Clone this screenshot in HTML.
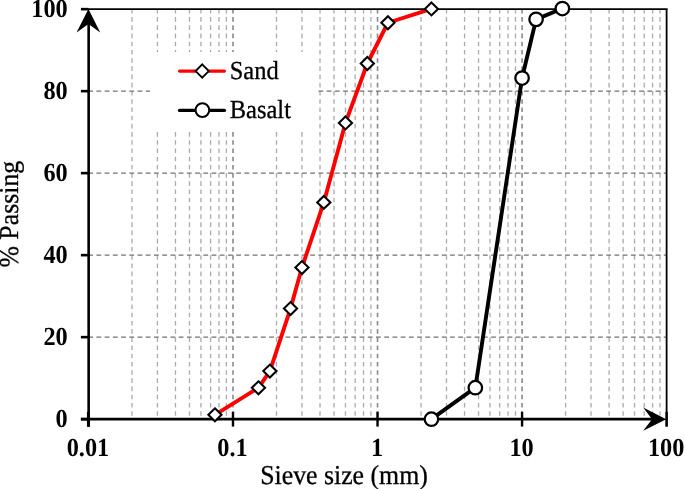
<!DOCTYPE html><html><head><meta charset="utf-8"><style>html,body{margin:0;padding:0;background:#fff;overflow:hidden;}svg{display:block;}text{font-family:"Liberation Serif",serif;text-rendering:geometricPrecision;}.t{filter:grayscale(1);}</style></head><body><svg width="685" height="489" viewBox="0 0 685 489"><rect x="0" y="0" width="685" height="489" fill="#fff"/><line x1="131.96" y1="8.9" x2="131.96" y2="419.15" stroke="#ababab" stroke-width="1.3" stroke-dasharray="4.6 3.61"/><line x1="157.41" y1="8.9" x2="157.41" y2="419.15" stroke="#ababab" stroke-width="1.3" stroke-dasharray="4.6 3.61"/><line x1="175.47" y1="8.9" x2="175.47" y2="419.15" stroke="#ababab" stroke-width="1.3" stroke-dasharray="4.6 3.61"/><line x1="189.48" y1="8.9" x2="189.48" y2="419.15" stroke="#ababab" stroke-width="1.3" stroke-dasharray="4.6 3.61"/><line x1="200.92" y1="8.9" x2="200.92" y2="419.15" stroke="#ababab" stroke-width="1.3" stroke-dasharray="4.6 3.61"/><line x1="210.60" y1="8.9" x2="210.60" y2="419.15" stroke="#ababab" stroke-width="1.3" stroke-dasharray="4.6 3.61"/><line x1="218.98" y1="8.9" x2="218.98" y2="419.15" stroke="#ababab" stroke-width="1.3" stroke-dasharray="4.6 3.61"/><line x1="226.38" y1="8.9" x2="226.38" y2="419.15" stroke="#ababab" stroke-width="1.3" stroke-dasharray="4.6 3.61"/><line x1="276.50" y1="8.9" x2="276.50" y2="419.15" stroke="#ababab" stroke-width="1.3" stroke-dasharray="4.6 3.61"/><line x1="301.95" y1="8.9" x2="301.95" y2="419.15" stroke="#ababab" stroke-width="1.3" stroke-dasharray="4.6 3.61"/><line x1="320.01" y1="8.9" x2="320.01" y2="419.15" stroke="#ababab" stroke-width="1.3" stroke-dasharray="4.6 3.61"/><line x1="334.02" y1="8.9" x2="334.02" y2="419.15" stroke="#ababab" stroke-width="1.3" stroke-dasharray="4.6 3.61"/><line x1="345.46" y1="8.9" x2="345.46" y2="419.15" stroke="#ababab" stroke-width="1.3" stroke-dasharray="4.6 3.61"/><line x1="355.14" y1="8.9" x2="355.14" y2="419.15" stroke="#ababab" stroke-width="1.3" stroke-dasharray="4.6 3.61"/><line x1="363.52" y1="8.9" x2="363.52" y2="419.15" stroke="#ababab" stroke-width="1.3" stroke-dasharray="4.6 3.61"/><line x1="370.92" y1="8.9" x2="370.92" y2="419.15" stroke="#ababab" stroke-width="1.3" stroke-dasharray="4.6 3.61"/><line x1="232.99" y1="8.9" x2="232.99" y2="419.15" stroke="#8a8a8a" stroke-width="1.6" stroke-dasharray="4.6 3.61"/><line x1="421.04" y1="8.9" x2="421.04" y2="419.15" stroke="#ababab" stroke-width="1.3" stroke-dasharray="4.6 3.61"/><line x1="446.49" y1="8.9" x2="446.49" y2="419.15" stroke="#ababab" stroke-width="1.3" stroke-dasharray="4.6 3.61"/><line x1="464.55" y1="8.9" x2="464.55" y2="419.15" stroke="#ababab" stroke-width="1.3" stroke-dasharray="4.6 3.61"/><line x1="478.56" y1="8.9" x2="478.56" y2="419.15" stroke="#ababab" stroke-width="1.3" stroke-dasharray="4.6 3.61"/><line x1="490.00" y1="8.9" x2="490.00" y2="419.15" stroke="#ababab" stroke-width="1.3" stroke-dasharray="4.6 3.61"/><line x1="499.68" y1="8.9" x2="499.68" y2="419.15" stroke="#ababab" stroke-width="1.3" stroke-dasharray="4.6 3.61"/><line x1="508.06" y1="8.9" x2="508.06" y2="419.15" stroke="#ababab" stroke-width="1.3" stroke-dasharray="4.6 3.61"/><line x1="515.46" y1="8.9" x2="515.46" y2="419.15" stroke="#ababab" stroke-width="1.3" stroke-dasharray="4.6 3.61"/><line x1="377.53" y1="8.9" x2="377.53" y2="419.15" stroke="#8a8a8a" stroke-width="1.6" stroke-dasharray="4.6 3.61"/><line x1="565.58" y1="8.9" x2="565.58" y2="419.15" stroke="#ababab" stroke-width="1.3" stroke-dasharray="4.6 3.61"/><line x1="591.03" y1="8.9" x2="591.03" y2="419.15" stroke="#ababab" stroke-width="1.3" stroke-dasharray="4.6 3.61"/><line x1="609.09" y1="8.9" x2="609.09" y2="419.15" stroke="#ababab" stroke-width="1.3" stroke-dasharray="4.6 3.61"/><line x1="623.10" y1="8.9" x2="623.10" y2="419.15" stroke="#ababab" stroke-width="1.3" stroke-dasharray="4.6 3.61"/><line x1="634.54" y1="8.9" x2="634.54" y2="419.15" stroke="#ababab" stroke-width="1.3" stroke-dasharray="4.6 3.61"/><line x1="644.22" y1="8.9" x2="644.22" y2="419.15" stroke="#ababab" stroke-width="1.3" stroke-dasharray="4.6 3.61"/><line x1="652.60" y1="8.9" x2="652.60" y2="419.15" stroke="#ababab" stroke-width="1.3" stroke-dasharray="4.6 3.61"/><line x1="660.00" y1="8.9" x2="660.00" y2="419.15" stroke="#ababab" stroke-width="1.3" stroke-dasharray="4.6 3.61"/><line x1="522.07" y1="8.9" x2="522.07" y2="419.15" stroke="#8a8a8a" stroke-width="1.6" stroke-dasharray="4.6 3.61"/><line x1="88.2" y1="337.15" x2="666.61" y2="337.15" stroke="#727272" stroke-width="1.1" stroke-dasharray="4.8 3.423"/><line x1="88.2" y1="255.15" x2="666.61" y2="255.15" stroke="#727272" stroke-width="1.1" stroke-dasharray="4.8 3.423"/><line x1="88.2" y1="173.15" x2="666.61" y2="173.15" stroke="#727272" stroke-width="1.1" stroke-dasharray="4.8 3.423"/><line x1="88.2" y1="91.15" x2="666.61" y2="91.15" stroke="#727272" stroke-width="1.1" stroke-dasharray="4.8 3.423"/><rect x="150" y="52" width="168" height="80" fill="#fff"/><polyline points="214.93,414.80 258.44,387.80 269.89,371.05 290.51,308.55 301.95,267.55 323.82,202.40 345.46,122.95 367.33,63.50 387.92,22.75 431.43,8.95" fill="none" stroke="#ff0000" stroke-width="3.9" stroke-linejoin="round" stroke-linecap="round"/><polyline points="431.43,419.20 475.34,387.70 522.07,78.00 536.08,19.35 562.36,8.55" fill="none" stroke="#000" stroke-width="3.9" stroke-linejoin="round" stroke-linecap="round"/><line x1="81" y1="9.15" x2="667.61" y2="9.15" stroke="#000" stroke-width="1.9"/><line x1="666.61" y1="9.15" x2="666.61" y2="426.6" stroke="#000" stroke-width="1.8"/><line x1="80.9" y1="419.15" x2="88.45" y2="419.15" stroke="#000" stroke-width="2.6"/><line x1="80.9" y1="337.15" x2="88.45" y2="337.15" stroke="#000" stroke-width="2.6"/><line x1="80.9" y1="255.15" x2="88.45" y2="255.15" stroke="#000" stroke-width="2.6"/><line x1="80.9" y1="173.15" x2="88.45" y2="173.15" stroke="#000" stroke-width="2.6"/><line x1="80.9" y1="91.15" x2="88.45" y2="91.15" stroke="#000" stroke-width="2.6"/><line x1="80.9" y1="9.15" x2="88.45" y2="9.15" stroke="#000" stroke-width="2.6"/><line x1="232.99" y1="411.8" x2="232.99" y2="426.6" stroke="#000" stroke-width="2.4"/><line x1="377.53" y1="411.8" x2="377.53" y2="426.6" stroke="#000" stroke-width="2.4"/><line x1="522.07" y1="411.8" x2="522.07" y2="426.6" stroke="#000" stroke-width="2.4"/><line x1="666.61" y1="411.8" x2="666.61" y2="426.6" stroke="#000" stroke-width="2.4"/><line x1="88.65" y1="426.7" x2="88.65" y2="20" stroke="#000" stroke-width="2.6"/><line x1="88.45" y1="411.8" x2="88.45" y2="426.7" stroke="#000" stroke-width="3.0"/><line x1="80.9" y1="419.15" x2="656" y2="419.15" stroke="#000" stroke-width="2.6"/><path d="M88.45,9.0 L100.25,32.4 L88.45,23.9 L76.55,32.4 Z" fill="#000"/><path d="M666.2,419.15 L643.2,407.54999999999995 L652.0,419.15 L643.2,430.84999999999997 Z" fill="#000"/><path d="M214.93,408.35 L221.53,414.80 L214.93,421.25 L208.33,414.80 Z" fill="#fff" stroke="#000" stroke-width="2.05" stroke-linejoin="miter"/><path d="M258.44,381.35 L265.04,387.80 L258.44,394.25 L251.84,387.80 Z" fill="#fff" stroke="#000" stroke-width="2.05" stroke-linejoin="miter"/><path d="M269.89,364.60 L276.49,371.05 L269.89,377.50 L263.29,371.05 Z" fill="#fff" stroke="#000" stroke-width="2.05" stroke-linejoin="miter"/><path d="M290.51,302.10 L297.11,308.55 L290.51,315.00 L283.91,308.55 Z" fill="#fff" stroke="#000" stroke-width="2.05" stroke-linejoin="miter"/><path d="M301.95,261.10 L308.55,267.55 L301.95,274.00 L295.35,267.55 Z" fill="#fff" stroke="#000" stroke-width="2.05" stroke-linejoin="miter"/><path d="M323.82,195.95 L330.42,202.40 L323.82,208.85 L317.22,202.40 Z" fill="#fff" stroke="#000" stroke-width="2.05" stroke-linejoin="miter"/><path d="M345.46,116.50 L352.06,122.95 L345.46,129.40 L338.86,122.95 Z" fill="#fff" stroke="#000" stroke-width="2.05" stroke-linejoin="miter"/><path d="M367.33,57.05 L373.93,63.50 L367.33,69.95 L360.73,63.50 Z" fill="#fff" stroke="#000" stroke-width="2.05" stroke-linejoin="miter"/><path d="M387.92,16.30 L394.52,22.75 L387.92,29.20 L381.32,22.75 Z" fill="#fff" stroke="#000" stroke-width="2.05" stroke-linejoin="miter"/><path d="M431.43,2.50 L438.03,8.95 L431.43,15.40 L424.83,8.95 Z" fill="#fff" stroke="#000" stroke-width="2.05" stroke-linejoin="miter"/><circle cx="431.43" cy="419.20" r="6.75" fill="#fff" stroke="#000" stroke-width="2.25"/><circle cx="475.34" cy="387.70" r="6.75" fill="#fff" stroke="#000" stroke-width="2.25"/><circle cx="522.07" cy="78.00" r="6.75" fill="#fff" stroke="#000" stroke-width="2.25"/><circle cx="536.08" cy="19.35" r="6.75" fill="#fff" stroke="#000" stroke-width="2.25"/><circle cx="562.36" cy="8.55" r="6.75" fill="#fff" stroke="#000" stroke-width="2.25"/><line x1="179.6" y1="71.05" x2="224.4" y2="71.05" stroke="#ff0000" stroke-width="3.3" stroke-linecap="round"/><path d="M202.20,64.35 L208.80,71.05 L202.20,77.75 L195.60,71.05 Z" fill="#fff" stroke="#000" stroke-width="1.9" stroke-linejoin="miter"/><line x1="179.6" y1="110.4" x2="224.4" y2="110.4" stroke="#000" stroke-width="3.4" stroke-linecap="round"/><ellipse cx="202.4" cy="110.1" rx="6.85" ry="6.95" fill="#fff" stroke="#000" stroke-width="2.0"/><text class="t" transform="translate(229.70,78.90) scale(1.0,1.06)" font-size="24.5" stroke="#000" stroke-width="0.3" text-anchor="start">Sand</text><text class="t" transform="translate(229.70,117.90) scale(1.0,1.06)" font-size="24.5" stroke="#000" stroke-width="0.3" text-anchor="start">Basalt</text><text class="t" transform="translate(67.70,427.05) scale(1.0,1.07)" font-size="24.3" font-weight="bold" text-anchor="end">0</text><text class="t" transform="translate(67.70,345.05) scale(1.0,1.07)" font-size="24.3" font-weight="bold" text-anchor="end">20</text><text class="t" transform="translate(67.70,263.05) scale(1.0,1.07)" font-size="24.3" font-weight="bold" text-anchor="end">40</text><text class="t" transform="translate(67.70,181.05) scale(1.0,1.07)" font-size="24.3" font-weight="bold" text-anchor="end">60</text><text class="t" transform="translate(67.70,99.05) scale(1.0,1.07)" font-size="24.3" font-weight="bold" text-anchor="end">80</text><text class="t" transform="translate(67.70,17.05) scale(1.0,1.07)" font-size="24.3" font-weight="bold" text-anchor="end">100</text><text class="t" transform="translate(87.95,456.00) scale(1.0,1.07)" font-size="24.3" font-weight="bold" text-anchor="middle">0.01</text><text class="t" transform="translate(232.49,456.00) scale(1.0,1.07)" font-size="24.3" font-weight="bold" text-anchor="middle">0.1</text><text class="t" transform="translate(377.03,456.00) scale(1.0,1.07)" font-size="24.3" font-weight="bold" text-anchor="middle">1</text><text class="t" transform="translate(521.57,456.00) scale(1.0,1.07)" font-size="24.3" font-weight="bold" text-anchor="middle">10</text><text class="t" transform="translate(666.11,456.00) scale(1.0,1.07)" font-size="24.3" font-weight="bold" text-anchor="middle">100</text><text class="t" transform="translate(344.00,483.80) scale(1.0,1.06)" font-size="25.8" stroke="#000" stroke-width="0.3" text-anchor="middle">Sieve size (mm)</text><text class="t" transform="translate(17.80,214.20) rotate(-90) scale(1.0,1.06)" font-size="25.8" stroke="#000" stroke-width="0.3" text-anchor="middle">% Passing</text></svg></body></html>
